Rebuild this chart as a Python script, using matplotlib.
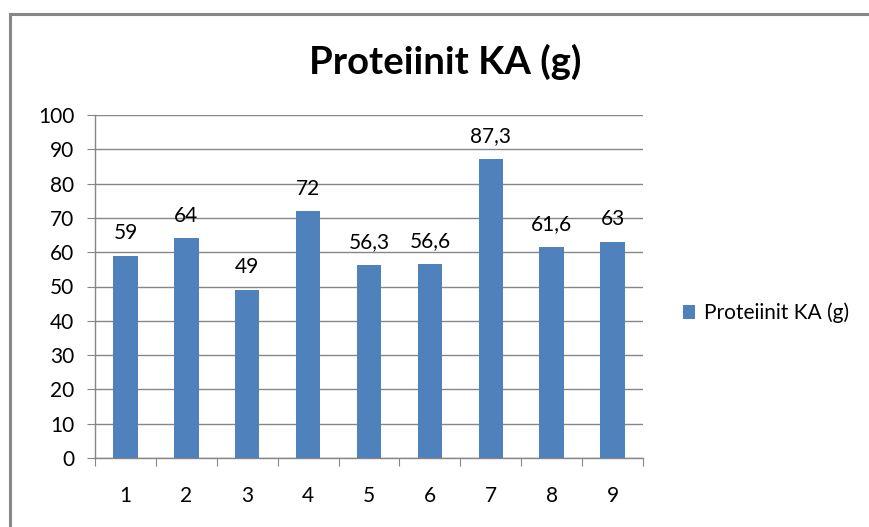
import matplotlib
matplotlib.use("Agg")
import matplotlib.pyplot as plt
from matplotlib.patches import Rectangle

categories = ["1", "2", "3", "4", "5", "6", "7", "8", "9"]
values = [59, 64, 49, 72, 56.3, 56.6, 87.3, 61.6, 63]
labels = ["59", "64", "49", "72", "56,3", "56,6", "87,3", "61,6", "63"]
series_name = "Proteiinit KA (g)"
yticks = list(range(0, 101, 10))

plt.rcParams['font.family'] = ['Lato', 'DejaVu Sans']

W, H = 869, 527
fig = plt.figure(figsize=(W / 100, H / 100), dpi=100)
fig.patch.set_facecolor("white")

# outer chart border (cropped on right/bottom)
fig.add_artist(Rectangle((9.5 / W, -0.1), 1.2, 1 - 13.5 / H + 0.1,
                         transform=fig.transFigure, fill=False,
                         edgecolor="#878787", linewidth=2.2))

left, right, top, bottom = 95, 643, 115, 458
ax = fig.add_axes([left / W, 1 - bottom / H, (right - left) / W, (bottom - top) / H])

FS = 15
x = list(range(len(categories)))
bars = ax.bar(x, values, width=0.4, color="#4f81bd", zorder=3, label=series_name)
ax.set_xlim(-0.5, len(categories) - 0.5)
ax.set_ylim(0, 100)
ax.set_yticks(yticks)
ax.set_yticklabels([str(t) for t in yticks])
ax.grid(axis="y", color="#868686", linewidth=1, zorder=0)
ax.set_axisbelow(True)

for s in ["top", "right"]:
    ax.spines[s].set_visible(False)
for s in ["left", "bottom"]:
    ax.spines[s].set_color("#868686")
    ax.spines[s].set_linewidth(1)

ax.set_xticks([i - 0.5 for i in range(len(categories) + 1)], minor=False)
ax.set_xticklabels([""] * (len(categories) + 1))
ax.set_xticks(x, minor=True)
ax.set_xticklabels(categories, minor=True)
ax.tick_params(axis="x", which="major", length=6, color="#868686", direction="out")
ax.tick_params(axis="x", which="minor", length=0, pad=20, labelsize=FS)
ax.tick_params(axis="y", length=6, color="#868686", direction="out", labelsize=FS, pad=9)

for xi, v, lab in zip(x, values, labels):
    ax.annotate(lab, (xi, v), xytext=(0, 9), textcoords="offset points",
                ha="center", va="bottom", fontsize=FS)

fig.text(445 / W, 1 - 62 / H, series_name, ha="center", va="center",
         fontsize=27.5, fontweight="bold")

ax.legend(loc="center left", bbox_to_anchor=(664 / W, 1 - 313 / H),
          bbox_transform=fig.transFigure, frameon=False, fontsize=15,
          handlelength=0.6, handleheight=0.6, handletextpad=0.4)

fig.savefig("out.png", dpi=100, facecolor="white")
